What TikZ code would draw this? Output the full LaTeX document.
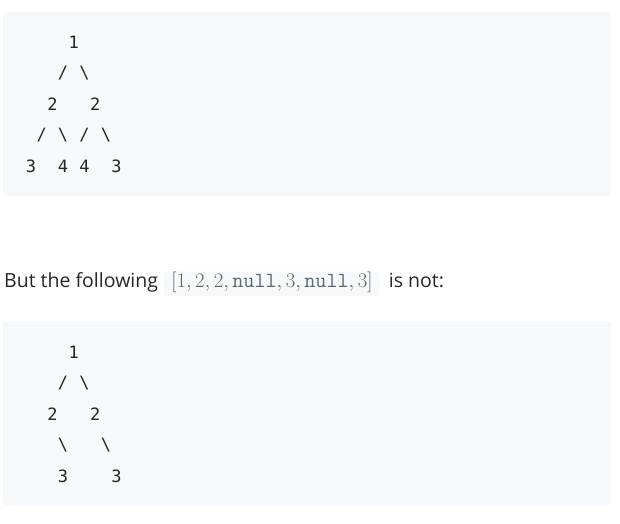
\documentclass[tikz,border=0pt]{standalone}
\usepackage{fontspec}
\setmainfont{Open Sans}
\newfontfamily\treefont{DejaVu Sans Mono}
\usetikzlibrary{positioning}
\definecolor{codebg}{HTML}{F7F8FA}
\definecolor{ink}{HTML}{262626}
\definecolor{codeink}{HTML}{5C6670}
\newcommand\fs{/}
\newcommand\bs{\textbackslash}

\begin{document}
\begin{tikzpicture}[x=1pt,y=-1pt]
        \tikzstyle{every node}=[text=ink]

        \def\colw{10.7}
        \def\rowh{31}
        \tikzstyle{block}=[fill=codebg,rounded corners=3pt]
        \tikzstyle{glyph}=[inner sep=0pt,font=\treefont\fontsize{17}{17}\selectfont]
        \tikzstyle{line}=[inner sep=0pt,font=\fontsize{19.5}{23}\selectfont]
        \tikzstyle{inl}=[fill=codebg,rounded corners=3pt,text=codeink,inner xsep=7pt,inner ysep=0pt,
            text height=15.5pt,text depth=9pt,font=\fontsize{21.5}{25}\selectfont]

        \useasboundingbox (0,0) rectangle (620,523);

        %symmetric tree
        \fill[block] (3,12) rectangle (611,196);
        \foreach \c/\r/\g [count=\i] in {4/0/1, 3/1/\fs, 5/1/\bs, 2/2/2, 6/2/2,
            1/3/\fs, 3/3/\bs, 5/3/\fs, 7/3/\bs, 0/4/3, 3/4/4, 5/4/4, 8/4/3} {
            \node [glyph] (a\i) at ({31+\c*\colw},{42+\r*\rowh}) {\g};
        };

        %the sentence
        \node [line,anchor=base west] (but) at (4,287) {But the following};
        \node [inl,right=6pt of but.base east,anchor=base west] (arr)
            {$[1, 2, 2, \mathtt{null}, 3, \mathtt{null}, 3]$};
        \node [line,right=9pt of arr.base east,anchor=base west] (isnot) {is not:};

        %not symmetric
        \fill[block] (3,321) rectangle (611,505);
        \foreach \c/\r/\g [count=\i] in {4/0/1, 3/1/\fs, 5/1/\bs, 2/2/2, 6/2/2,
            3/3/\bs, 7/3/\bs, 3/4/3, 8/4/3} {
            \node [glyph] (b\i) at ({31+\c*\colw},{352+\r*\rowh}) {\g};
        };
\end{tikzpicture}
\end{document}
